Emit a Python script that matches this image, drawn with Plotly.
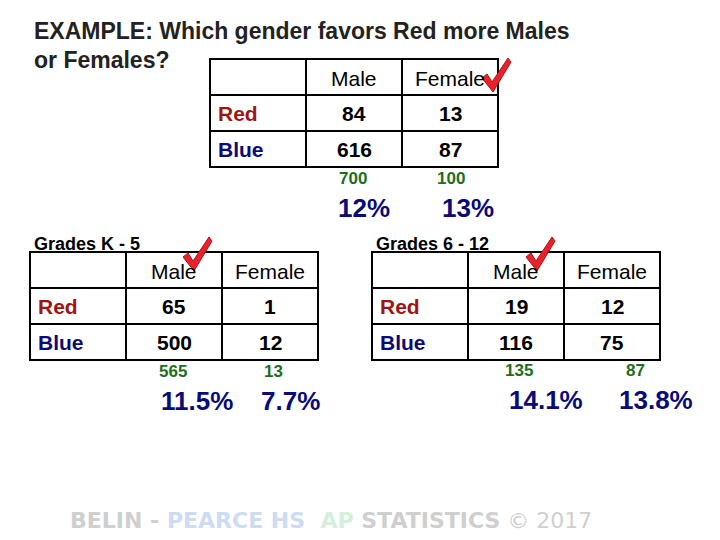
import plotly.graph_objects as go

# data
col_labels = ["Male", "Female"]
row_labels = ["Red", "Blue"]

all_counts = [[84, 13], [616, 87]]
all_totals = [700, 100]
all_pcts = ["12%", "13%"]

k5_counts = [[65, 1], [500, 12]]
k5_totals = [565, 13]
k5_pcts = ["11.5%", "7.7%"]

hs_counts = [[19, 12], [116, 75]]
hs_totals = [135, 87]
hs_pcts = ["14.1%", "13.8%"]

RED = "#a01414"
NAVY = "#0a0a78"
GREEN = "#1e6e1e"

fig = go.Figure()
ann = []
shapes = []

CW, CH = 96, 36


def table(x0, y0, counts, totals, pcts, tot_x, pct_x, tot_y, pct_y, check, caption=None):
    # grid
    shapes.append(dict(type="rect", x0=x0, x1=x0 + 3 * CW, y0=y0, y1=y0 + 3 * CH,
                       line=dict(color="black", width=2)))
    for i in (1, 2):
        shapes.append(dict(type="line", x0=x0 + i * CW, x1=x0 + i * CW, y0=y0, y1=y0 + 3 * CH,
                           line=dict(color="black", width=2)))
        shapes.append(dict(type="line", x0=x0, x1=x0 + 3 * CW, y0=y0 + i * CH, y1=y0 + i * CH,
                           line=dict(color="black", width=2)))
    for j, c in enumerate(col_labels):
        ann.append(dict(x=x0 + (j + 1.5) * CW, y=y0 + 0.55 * CH, text=c,
                        font=dict(size=21, color="black")))
    for i, r in enumerate(row_labels):
        ann.append(dict(x=x0 + 6, y=y0 + (i + 1.5) * CH, text="<b>%s</b>" % r, xanchor="left",
                        font=dict(size=21, color=RED if i == 0 else NAVY)))
        for j in range(2):
            ann.append(dict(x=x0 + (j + 1.5) * CW, y=y0 + (i + 1.5) * CH,
                            text="<b>%d</b>" % counts[i][j], font=dict(size=21, color="black")))
    for j in range(2):
        ann.append(dict(x=tot_x[j], y=tot_y, text="<b>%d</b>" % totals[j],
                        font=dict(size=17, color=GREEN)))
        ann.append(dict(x=pct_x[j], y=pct_y, text="<b>%s</b>" % pcts[j],
                        font=dict(size=26, color=NAVY)))
    if caption:
        ann.append(dict(x=x0 + 2, y=y0 - 8, text="<b>%s</b>" % caption, xanchor="left",
                        font=dict(size=18, color="black")))
    cx, cy = check
    path = ("M {a},{b} L {c},{d} L {e},{f} L {g},{h} L {i},{j} L {k},{l} Z").format(
        a=cx, b=cy + 20, c=cx + 5, d=cy + 16, e=cx + 10, f=cy + 24,
        g=cx + 26, h=cy, i=cx + 29, j=cy + 4, k=cx + 11, l=cy + 34)
    shapes.append(dict(type="path", path=path, fillcolor="#e8222a",
                       line=dict(color="#b01018", width=1)))


table(210, 59, all_counts, all_totals, all_pcts, [353, 451], [364, 468], 178, 208, (482, 58))
table(30, 252, k5_counts, k5_totals, k5_pcts, [173, 273], [197, 290], 371, 401, (183, 237), "Grades K - 5")
table(372, 252, hs_counts, hs_totals, hs_pcts, [519, 635], [546, 656], 370, 400, (526, 237), "Grades 6 - 12")

ann.append(dict(x=32, y=31, xanchor="left", text="<b>EXAMPLE: Which gender favors Red more Males</b>",
                font=dict(size=23, color="#222")))
ann.append(dict(x=32, y=60, xanchor="left", text="<b>or Females?</b>",
                font=dict(size=23, color="#222")))
ann.append(dict(x=68, y=520, xanchor="left",
                text="<b><span style='color:#cfcfcf'>BELIN - </span><span style='color:#cddcf3'>PEARCE HS</span>"
                     "  <span style='color:#d4f0dc'>AP</span> <span style='color:#cfcfcf'>STATISTICS</span></b>"
                     "<span style='color:#cfcfcf'> © 2017</span>",
                font=dict(size=22, family="DejaVu Sans", color="#cfcfcf")))

for a in ann:
    a.setdefault("xanchor", "center")
    a.update(xref="x", yref="y", showarrow=False, yanchor="middle")
    a["font"].setdefault("family", "Arial, Liberation Sans, sans-serif")

# page body has an 8px margin, so shift the ranges to keep page coordinates
fig.update_layout(
    width=720, height=540, margin=dict(l=0, r=0, t=0, b=0),
    plot_bgcolor="white", paper_bgcolor="white",
    xaxis=dict(range=[8, 728], visible=False),
    yaxis=dict(range=[548, 8], visible=False),
    annotations=ann, shapes=shapes, showlegend=False,
)
fig.write_html("out.html")
